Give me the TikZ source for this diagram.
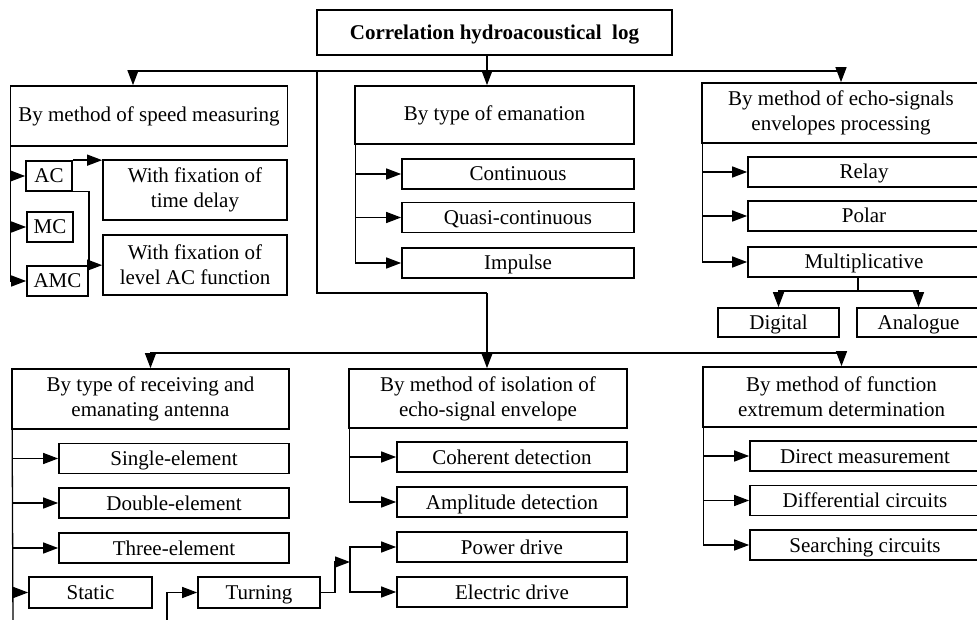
\documentclass[tikz,border=0pt]{standalone}
\usepackage{fontspec}
\setmainfont{Liberation Serif}
\usetikzlibrary{arrows.meta}

\begin{document}
\begin{tikzpicture}[x=1pt, y=-1pt,
        box/.style={draw, line width=1.7pt, inner sep=0pt, align=center,
            font=\fontsize{21}{25}\selectfont},
        head/.style={box, minimum width=277pt, minimum height=60pt},
        small/.style={box, text height=18pt, text depth=4pt},
        sub/.style={small, minimum width=230pt, minimum height=30pt},
        conn/.style={line width=1.3pt},
        arr/.style={conn, -{Triangle[length=15pt, width=11pt]}}]
        \useasboundingbox (0, 0) rectangle (977, 620);
        \clip (0, 0) rectangle (977, 620);

        \node[small, minimum width=355pt, minimum height=45pt,
            font=\fontsize{21}{25}\selectfont\bfseries] (root) at (494.5, 32.5) {Correlation hydroacoustical\ \ log};

        % first row
        \node[head] (c1) at (149, 116) {By method of speed measuring};
        \node[head, minimum width=279pt, minimum height=58pt] (c2) at (494.5, 115) {By type of emanation};
        \node[head, minimum width=278pt] (c3) at (841, 113) {By method of echo-signals\\envelopes processing};

        \node[small, minimum width=46pt, minimum height=30pt] (ac) at (49, 176) {AC};
        \node[small, minimum width=46pt, minimum height=30pt] (mc) at (50, 227) {MC};
        \node[small, minimum width=61pt, minimum height=30pt] (amc) at (57.5, 281) {AMC};
        \node[box, minimum width=184pt, minimum height=60pt] (t1) at (195, 190) {With fixation of\\time delay};
        \node[box, minimum width=184pt, minimum height=60pt] (t2) at (195, 265) {With fixation of\\level AC function};

        \node[sub, minimum width=232pt] (e1) at (518, 174) {Continuous};
        \node[sub, minimum width=232pt] (e2) at (518, 217.5) {Quasi-continuous};
        \node[sub, minimum width=232pt] (e3) at (518, 263) {Impulse};

        \node[sub, minimum width=232pt] (r1) at (864, 172) {Relay};
        \node[sub, minimum width=232pt] (r2) at (864, 216) {Polar};
        \node[sub, minimum width=232pt] (r3) at (864, 262) {Multiplicative};
        \node[small, minimum width=121pt, minimum height=29pt] (dig) at (778.5, 322.5) {Digital};
        \node[small, minimum width=123pt, minimum height=29pt] (ana) at (918.5, 322.5) {Analogue};

        % second row
        \node[head] (d1) at (150.5, 399) {By type of receiving and\\emanating antenna};
        \node[head, minimum width=278pt, minimum height=59pt] (d2) at (488, 398.5) {By method of isolation of\\echo-signal envelope};
        \node[head] (d3) at (841.5, 397) {By method of function\\extremum determination};

        \node[sub] (a1) at (174, 458.5) {Single-element};
        \node[sub] (a2) at (174, 503) {Double-element};
        \node[sub] (a3) at (174, 548) {Three-element};
        \node[small, minimum width=123pt, minimum height=31pt] (stat) at (90.5, 592.5) {Static};
        \node[small, minimum width=122pt, minimum height=31pt] (turn) at (259, 592.5) {Turning};

        \node[sub] (i1) at (512, 457) {Coherent detection};
        \node[sub] (i2) at (512, 502) {Amplitude detection};
        \node[sub] (p1) at (512, 547) {Power drive};
        \node[sub] (p2) at (512, 592) {Electric drive};

        \node[sub] (f1) at (865, 456) {Direct measurement};
        \node[sub] (f2) at (865, 500.5) {Differential circuits};
        \node[sub] (f3) at (865, 545) {Searching circuits};

        \coordinate (b0) at (487, 71);
        \coordinate (b1) at (317, 71);
        \coordinate (b2) at (487, 293);
        \coordinate (b3) at (487, 353);
        \coordinate (m0) at (858, 291);
        \coordinate (j1) at (335, 562);
        \coordinate (j2) at (350, 562);
        \coordinate (lo1) at (13, 625);
        \coordinate (lo2) at (167, 625);

        \draw[conn] ([xshift=-7.5pt]root.south) -- (b0);
        \draw[arr] (b0) -| ([xshift=-16pt]c1.north);
        \draw[arr] (b0) -- (b0 |- c2.north);
        \draw[arr] (b0) -| (c3.north);
        \draw[conn] (b1) |- (b2);
        \draw[conn] (b2) -- (b3);
        \draw[arr] (b3) -| (d1.north);
        \draw[arr] (b3) -- (b3 |- d2.north);
        \draw[arr] (b3) -| (d3.north);

        \draw[arr] ([xshift=1pt]c1.south west) |- (ac.west);
        \draw[arr] ([xshift=1pt]c1.south west) |- (mc.west);
        \draw[arr] ([xshift=1pt]c1.south west) |- (amc.west);
        \draw[arr] (ac.north east) -- (ac.north east -| t1.west);
        \draw[arr] (ac.south east) -| (amc.north east) -- (amc.north east -| t2.west);

        \draw[arr] ([xshift=1pt]c2.south west) |- (e1.west);
        \draw[arr] ([xshift=1pt]c2.south west) |- (e2.west);
        \draw[arr] ([xshift=1pt]c2.south west) |- (e3.west);

        \draw[arr] ([xshift=1pt]c3.south west) |- (r1.west);
        \draw[arr] ([xshift=1pt]c3.south west) |- (r2.west);
        \draw[arr] ([xshift=1pt]c3.south west) |- (r3.west);
        \draw[conn] (m0 |- r3.south) -- (m0);
        \draw[arr] (m0) -| (dig.north);
        \draw[arr] (m0) -| (ana.north);

        \draw[arr] ([xshift=1pt]d1.south west) |- (a1.west);
        \draw[arr] ([xshift=1pt]d1.south west) |- (a2.west);
        \draw[arr] ([xshift=1pt]d1.south west) |- (a3.west);
        \draw[arr] ([xshift=1pt]d1.south west) |- (stat.west);
        \draw[conn] ([xshift=1pt]d1.south west) -- (lo1);
        \draw[arr] (lo2) |- (turn.west);
        \draw[arr] (turn.east) -| (j1) -- (j2);
        \draw[arr] (j2) |- (p1.west);
        \draw[arr] (j2) |- (p2.west);

        \draw[arr] ([xshift=1pt]d2.south west) |- (i1.west);
        \draw[arr] ([xshift=1pt]d2.south west) |- (i2.west);

        \draw[arr] ([xshift=1pt]d3.south west) |- (f1.west);
        \draw[arr] ([xshift=1pt]d3.south west) |- (f2.west);
        \draw[arr] ([xshift=1pt]d3.south west) |- (f3.west);
    \end{tikzpicture}
\end{document}
